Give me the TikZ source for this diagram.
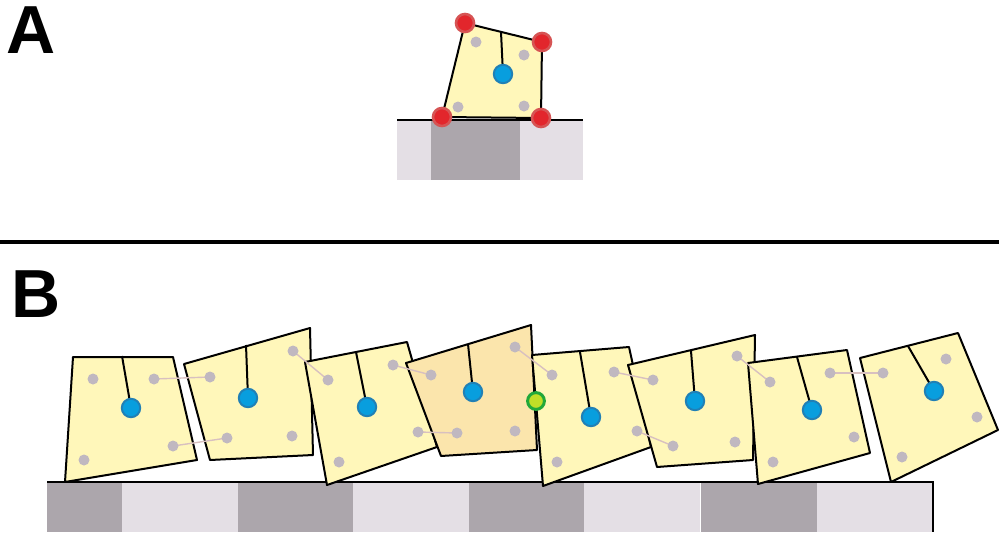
\documentclass[tikz,border=0pt]{standalone}
\usepackage{fontspec}
\newfontfamily\panelfont{Liberation Sans}
\usetikzlibrary{calc}
\definecolor{tileYellow}{RGB}{255,247,186}
\definecolor{tilePeach}{RGB}{251,229,172}
\definecolor{hubBlue}{RGB}{8,158,222}
\definecolor{hubRing}{RGB}{32,128,182}
\definecolor{pinGrey}{RGB}{192,184,192}
\definecolor{springPink}{RGB}{216,192,192}
\definecolor{groundDark}{RGB}{172,166,172}
\definecolor{groundLight}{RGB}{228,223,229}
\definecolor{cornerRed}{RGB}{226,38,44}
\definecolor{cornerRing}{RGB}{214,84,84}
\definecolor{contactGreen}{RGB}{34,168,58}
\definecolor{contactLime}{RGB}{192,222,40}
\tikzset{
  tile/.style={draw=black,line width=2pt,line join=round},
  rod/.style={draw=black,line width=2pt},
  hub/.style={fill=hubBlue,draw=hubRing,line width=2pt},
  pin/.style={fill=pinGrey},
  spring/.style={draw=springPink,line width=1.4pt},
  corner/.style={fill=cornerRed,draw=cornerRing,line width=2.6pt},
  contact/.style={fill=contactLime,draw=contactGreen,line width=3pt},
  panel/.style={inner sep=0pt,font=\panelfont\bfseries\fontsize{68}{68}\selectfont}
}
% #1 name, #2 fill, #3-#6 corners, #7 rod top, #8 hub
\newcommand{\tile}[8]{%
  \filldraw[tile,fill=#2] (#3) -- (#4) -- (#5) -- (#6) -- cycle;
  \coordinate (h#1) at (#8);
  \draw[rod] (#7) -- (h#1);
}
\begin{document}
\begin{tikzpicture}[x=1pt,y=-1pt]
  \useasboundingbox (0,0) rectangle (999,536);
  \node[panel] (labA) at (31.5,30.5) {A};
  \node[panel] (labB) at (36.5,294.3) {B};
  \draw[line width=4pt] (0,242) -- (999,242);

  % panel A
  \fill[groundLight] (397,120) rectangle (583,180);
  \fill[groundDark] (431,120) rectangle (520,180);
  \draw[line width=2pt] (397,120) -- (583,120);
  \tile{A}{tileYellow}{465,23}{542,42}{541,118}{442,117}{501,32}{503,74}
  \foreach \x/\y in {476/42,524/55,458/107,524/106}
    \fill[pin] (\x,\y) circle (5.5pt);
  \filldraw[hub] (hA) circle (9.2pt);
  \foreach \x/\y in {465/23,542/42,541/118,442/117}
    \filldraw[corner] (\x,\y) circle (9pt);

  % panel B
  \foreach \x/\c in {47/groundDark,122/groundLight,238/groundDark,353/groundLight,
                     469/groundDark,584/groundLight,701/groundDark,817/groundLight}
    \fill[\c] (\x,482) rectangle ++(116,50);
  \fill[groundDark] (47,482) rectangle (122,532);
  \draw[line width=2pt] (47,482) -- (933,482) -- (933,532);

  \tile{1}{tileYellow}{73,357}{173,357}{197,460}{65,482}{122,356}{131,408}
  \tile{2}{tileYellow}{184,364}{310,328}{313,455}{210,460}{246,345}{248,398}
  \tile{3}{tileYellow}{305,362}{407,342}{437,447}{327,485}{356,352}{367,407}
  \tile{4}{tilePeach}{406,363}{531,325}{537,450}{441,456}{468,344}{473,392}
  \tile{5}{tileYellow}{532,355}{629,347}{651,447}{543,486}{580,352}{591,417}
  \tile{6}{tileYellow}{628,365}{755,335}{753,460}{657,467}{691,351}{695,401}
  \tile{7}{tileYellow}{748,363}{847,350}{870,453}{758,484}{797,357}{812,410}
  \tile{8}{tileYellow}{860,358}{958,333}{998,430}{891,482}{908,346}{934,391}

  \foreach \n/\x/\y in {1a/93/379,1b/154/379,1c/84/460,1d/173/446,
                        2a/210/377,2b/293/351,2c/227/438,2d/292/436,
                        3a/328/380,3b/393/365,3c/339/462,3d/418/432,
                        4a/431/375,4b/515/347,4c/457/433,4d/515/431,
                        5a/552/375,5b/614/372,5c/557/462,5d/637/431,
                        6a/653/380,6b/737/356,6c/673/446,6d/735/442,
                        7a/770/382,7b/830/373,7c/773/462,7d/854/437,
                        8a/883/373,8b/946/359,8c/902/457,8d/977/417}
    \coordinate (p\n) at (\x,\y);
  \foreach \u/\v in {1b/2a,1d/2c,2b/3a,3b/4a,3d/4c,4b/5a,5b/6a,5d/6c,6b/7a,7b/8a}
    \draw[spring] (p\u) -- (p\v);
  \foreach \k in {1,...,8}{
    \foreach \s in {a,b,c,d}
      \fill[pin] (p\k\s) circle (5.5pt);
    \filldraw[hub] (h\k) circle (9.2pt);
  }
  \coordinate (touch) at (536,401);
  \filldraw[contact] (touch) circle (8.4pt);
\end{tikzpicture}
\end{document}
